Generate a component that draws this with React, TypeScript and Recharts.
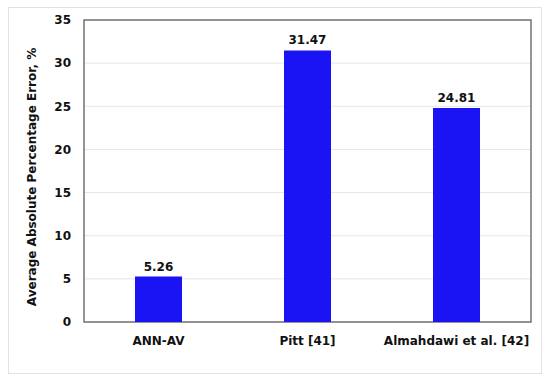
import { BarChart, Bar, XAxis, YAxis, CartesianGrid, LabelList, ReferenceArea } from 'recharts';

const CATEGORIES = ['ANN-AV', 'Pitt [41]', 'Almahdawi et al. [42]'];
const ERRORS = [5.26, 31.47, 24.81];
const Y_TICKS = [0, 5, 10, 15, 20, 25, 30, 35];
const Y_TITLE = 'Average Absolute Percentage Error, %';

const data = CATEGORIES.map((name, i) => ({ name, value: ERRORS[i] }));

const FONT = '"DejaVu Sans", Verdana, sans-serif';
const tickStyle = { fontSize: 12, fontWeight: 700, fill: '#111', fontFamily: FONT };

function YTitle({ viewBox }: { viewBox?: { x: number; y: number; width: number; height: number } }) {
  if (!viewBox) return null;
  const cx = viewBox.x + 32;
  const cy = viewBox.y + viewBox.height / 2 + 6;
  return (
    <text
      x={cx}
      y={cy}
      transform={`rotate(-90, ${cx}, ${cy})`}
      textAnchor="middle"
      dominantBaseline="central"
      style={{ fontSize: 12, fontWeight: 700, fill: '#111', fontFamily: FONT }}
    >
      {Y_TITLE}
    </text>
  );
}

export default function App() {
  return (
    <div style={{ position: 'fixed', left: 0, top: 0, width: 550, height: 382, background: '#fff' }}>
      <div
        style={{
          position: 'absolute',
          left: 8,
          top: 7,
          width: 532,
          height: 365,
          border: '1px solid #e2e2e2',
        }}
      />
      <BarChart
        width={550}
        height={382}
        data={data}
        margin={{ top: 20, right: 19, bottom: 30, left: 0 }}
        style={{ position: 'absolute', left: 0, top: 0 }}
      >
        <CartesianGrid vertical={false} stroke="#e6e6e6" strokeWidth={1} />
        <XAxis
          dataKey="name"
          height={30}
          axisLine={false}
          tickLine={false}
          tickSize={0}
          tickMargin={14}
          tick={tickStyle}
          interval={0}
        />
        <YAxis
          width={84}
          domain={[0, 35]}
          ticks={Y_TICKS}
          axisLine={false}
          tickLine={false}
          tickSize={0}
          tickMargin={13}
          tick={tickStyle}
          label={<YTitle />}
        />
        <ReferenceArea y1={0} y2={35} fill="none" fillOpacity={0} stroke="#737373" strokeWidth={1.5} />
        <Bar dataKey="value" fill="#1a14f5" barSize={47} isAnimationActive={false}>
          <LabelList
            dataKey="value"
            position="top"
            offset={6}
            formatter={(v: number) => v.toFixed(2)}
            style={{ fontSize: 12, fontWeight: 700, fill: '#111', fontFamily: FONT }}
          />
        </Bar>
      </BarChart>
    </div>
  );
}
